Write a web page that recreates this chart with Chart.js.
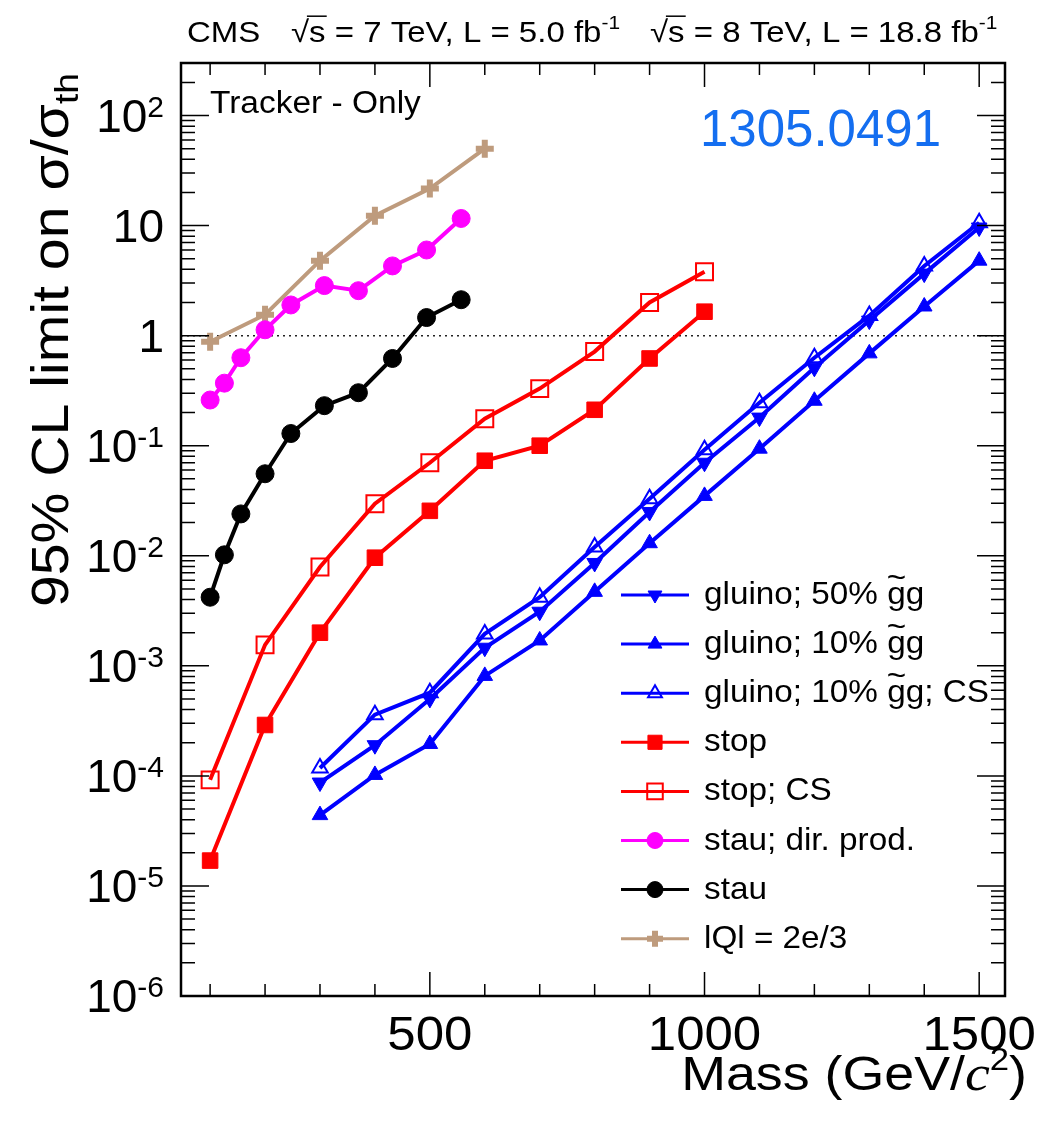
<!DOCTYPE html>
<html>
<head>
<meta charset="utf-8">
<script src="https://cdn.jsdelivr.net/npm/chart.js@4.4.1/dist/chart.umd.min.js"></script>
<style>
  html, body { margin: 0; padding: 0; background: #fff; }
  canvas { display: block; }
</style>
</head>
<body>
<canvas id="limits" width="1042" height="1121"></canvas>
<script>
// masses (GeV/c^2)
const gluinoMass = [300, 400, 500, 600, 700, 800, 900, 1000, 1100, 1200, 1300, 1400, 1500];
const stopMass = [100, 200, 300, 400, 500, 600, 700, 800, 900, 1000];
const stauMass = [100, 126, 156, 200, 247, 308, 370, 432, 494, 557];
const qMass = [100, 200, 300, 400, 500, 600];

// 95% CL limit on sigma / sigma_th
const gluino50 = [8.7e-5, 1.9e-4, 5.0e-4, 1.46e-3, 3.1e-3, 8.6e-3, 0.025, 0.07, 0.18, 0.51, 1.37, 3.66, 9.6];
const gluino10 = [4.4e-5, 1.02e-4, 1.95e-4, 8.1e-4, 1.7e-3, 4.7e-3, 0.013, 0.035, 0.094, 0.256, 0.69, 1.84, 4.8];
const gluino10CS = [1.18e-4, 3.6e-4, 5.7e-4, 1.95e-3, 4.2e-3, 0.012, 0.033, 0.092, 0.246, 0.63, 1.52, 4.3, 10.6];
const stop = [1.7e-5, 2.9e-4, 2.0e-3, 9.6e-3, 0.0256, 0.073, 0.1, 0.212, 0.62, 1.65];
const stopCS = [9.2e-5, 1.55e-3, 7.9e-3, 0.0297, 0.07, 0.176, 0.33, 0.716, 2.0, 3.8];
const stauDirect = [0.26, 0.37, 0.63, 1.13, 1.9, 2.85, 2.56, 4.3, 6.0, 11.6];
const stau = [0.0042, 0.0102, 0.024, 0.0556, 0.129, 0.231, 0.303, 0.62, 1.46, 2.12];
const q2e3 = [0.88, 1.55, 4.8, 12.3, 21.7, 50];

const xTicks = [500, 1000, 1500];
const yTicks = [1e-6, 1e-5, 1e-4, 1e-3, 1e-2, 1e-1, 1, 10, 100];
const yTickLabels = [["10", "-6"], ["10", "-5"], ["10", "-4"], ["10", "-3"], ["10", "-2"], ["10", "-1"], ["1", ""], ["10", ""], ["10", "2"]];

const BLUE = "#0000ff";
const RED = "#ff0000";
const MAGENTA = "#ff00ff";
const TAN = "rgb(190,155,125)";
const SANS = '"Liberation Sans", Arial, Helvetica, sans-serif';

const pts = (xs, ys) => xs.map((x, i) => ({ x: x, y: ys[i] }));

const series = (label, xs, ys, color, style, extra) => Object.assign({
  label: label,
  data: pts(xs, ys),
  borderColor: color,
  borderWidth: 4,
  pointStyle: style,
  pointRadius: 9,
  pointBackgroundColor: color,
  pointBorderColor: color,
  pointBorderWidth: 1,
  pointRotation: 0,
  tension: 0,
}, extra || {});

const datasets = [
  series("gluino; 50% ", gluinoMass, gluino50, BLUE, "triangle", { pointRotation: 180 }),
  series("gluino; 10% ", gluinoMass, gluino10, BLUE, "triangle"),
  series("gluino; 10% ", gluinoMass, gluino10CS, BLUE, "triangle", { pointBackgroundColor: "rgba(0,0,0,0)", pointBorderWidth: 2, tail: "; CS" }),
  series("stop", stopMass, stop, RED, "rect", { pointRadius: 11 }),
  series("stop; CS", stopMass, stopCS, RED, "rect", { pointRadius: 12, pointBackgroundColor: "rgba(0,0,0,0)", pointBorderWidth: 2 }),
  series("stau; dir. prod.", stauMass, stauDirect, MAGENTA, "circle"),
  series("stau", stauMass, stau, "#000", "circle"),
  series("lQl = 2e/3", qMass, q2e3, TAN, "cross", { pointRadius: 9, pointBorderWidth: 6 }),
  {
    label: "unity",
    data: [{ x: 47, y: 1 }, { x: 1547, y: 1 }],
    borderColor: "#222",
    borderWidth: 1.5,
    borderDash: [2, 4],
    pointRadius: 0,
    isRef: true,
  },
];
datasets[0].gg = true;
datasets[1].gg = true;
datasets[2].gg = true;

// draw a row of text runs, stretched by sx
function runs(ctx, parts, x, y, o) {
  const sx = o.sx || 1;
  const fontOf = (p) => (p.italic ? "italic " : "") + p.size + "px " + (p.family || SANS);
  let w = 0;
  parts.forEach((p) => {
    ctx.font = fontOf(p);
    p.w = ctx.measureText(p.t).width * sx;
    w += p.w;
  });
  let cx = o.align === "right" ? x - w : o.align === "center" ? x - w / 2 : x;
  ctx.fillStyle = o.color || "#000";
  ctx.strokeStyle = o.color || "#000";
  ctx.textBaseline = "alphabetic";
  ctx.textAlign = "left";
  parts.forEach((p) => {
    ctx.save();
    ctx.font = fontOf(p);
    ctx.translate(cx, y + (p.dy || 0));
    ctx.scale(sx, 1);
    ctx.fillText(p.t, 0, 0);
    if (p.tilde) {
      const tw = ctx.measureText("~").width;
      ctx.fillText("~", p.w / sx / 2 - tw / 2, -p.size * 0.5);
    }
    if (p.bar) {
      ctx.lineWidth = 1.5;
      ctx.beginPath();
      ctx.moveTo(-2, -p.size * 0.86);
      ctx.lineTo(p.w / sx + 1, -p.size * 0.86);
      ctx.stroke();
    }
    ctx.restore();
    cx += p.w;
  });
  return w;
}

const frame = {
  id: "frame",
  afterDraw(chart) {
    const { ctx, chartArea: a, scales } = chart;
    const x = scales.x;
    const y = scales.y;
    ctx.save();
    ctx.strokeStyle = "#000";

    // ticks on all four sides
    ctx.lineWidth = 1.5;
    ctx.beginPath();
    for (let m = 100; m <= 1500; m += 100) {
      const px = x.getPixelForValue(m);
      const len = m % 500 === 0 ? 24 : 12;
      ctx.moveTo(px, a.bottom); ctx.lineTo(px, a.bottom - len);
      ctx.moveTo(px, a.top); ctx.lineTo(px, a.top + len);
    }
    for (let e = -6; e <= 2; e++) {
      for (let k = 1; k <= 9; k++) {
        const v = k * Math.pow(10, e);
        if (v >= y.max) break;
        const py = y.getPixelForValue(v);
        const len = k === 1 ? 28 : 14;
        ctx.moveTo(a.left, py); ctx.lineTo(a.left + len, py);
        ctx.moveTo(a.right, py); ctx.lineTo(a.right - len, py);
      }
    }
    ctx.stroke();
    ctx.lineWidth = 2.5;
    ctx.strokeRect(a.left, a.top, a.right - a.left, a.bottom - a.top);

    // tick labels
    xTicks.forEach((v) => {
      runs(ctx, [{ t: String(v), size: 49 }], x.getPixelForValue(v), 1050, { align: "center", sx: 1.04 });
    });
    yTicks.forEach((v, i) => {
      const py = y.getPixelForValue(v);
      const lab = yTickLabels[i];
      const parts = [{ t: lab[0], size: 46, dy: 16 }];
      if (lab[1]) parts.push({ t: lab[1], size: 30, dy: 1 });
      runs(ctx, parts, 164, py, { align: "right" });
    });

    // axis titles
    runs(ctx, [
      { t: "Mass (GeV/", size: 48 },
      { t: "c", size: 50, italic: true, family: '"Liberation Serif", "Times New Roman", serif' },
      { t: "2", size: 31, dy: -20 },
      { t: ")", size: 48 },
    ], 1027, 1090, { align: "right", sx: 1.12 });

    ctx.save();
    ctx.translate(68, 340);
    ctx.rotate(-Math.PI / 2);
    runs(ctx, [
      { t: "95% CL limit on \u03c3/\u03c3", size: 52 },
      { t: "th", size: 34, dy: 10 },
    ], 0, 0, { align: "center", sx: 1.1 });
    ctx.restore();

    // header
    runs(ctx, [{ t: "CMS", size: 30 }], 187, 42, { sx: 1.1 });
    [[291, "7", "5.0"], [650, "8", "18.8"]].forEach((h) => {
      runs(ctx, [
        { t: "\u221a", size: 30 },
        { t: "s", size: 30, bar: true },
        { t: " = " + h[1] + " TeV, L = " + h[2] + " fb", size: 30 },
        { t: "-1", size: 19, dy: -13 },
      ], h[0], 42, { sx: 1.1 });
    });

    // labels inside the frame
    runs(ctx, [{ t: "Tracker - Only", size: 31 }], 210, 113, { sx: 1.08 });
    runs(ctx, [{ t: "1305.0491", size: 51 }], 700, 146, { color: "rgb(20,110,240)" });

    // legend
    const drawPoint = Chart.helpers && Chart.helpers.drawPoint;
    chart.data.datasets.forEach((ds, i) => {
      if (ds.isRef) return;
      const ry = 595 + i * 49.1;
      ctx.save();
      ctx.strokeStyle = ds.borderColor;
      ctx.lineWidth = 3;
      ctx.beginPath();
      ctx.moveTo(621, ry); ctx.lineTo(689, ry);
      ctx.stroke();
      ctx.fillStyle = ds.pointBackgroundColor;
      ctx.strokeStyle = ds.pointBorderColor;
      ctx.lineWidth = ds.pointBorderWidth;
      const opts = { pointStyle: ds.pointStyle, rotation: ds.pointRotation, radius: ds.pointRadius - 1, borderWidth: ds.pointBorderWidth };
      if (drawPoint) {
        drawPoint(ctx, opts, 655, ry);
      } else {
        ctx.beginPath(); ctx.arc(655, ry, 8, 0, 2 * Math.PI); ctx.fill();
      }
      ctx.restore();
      const parts = [{ t: ds.label, size: 32 }];
      if (ds.gg) {
        parts.push({ t: "g", size: 32, tilde: true });
        parts.push({ t: "g" + (ds.tail || ""), size: 32 });
      }
      runs(ctx, parts, 704, ry + 9, { sx: 1.04 });
    });
    ctx.restore();
  },
};

new Chart(document.getElementById("limits"), {
  type: "line",
  data: { datasets: datasets },
  options: {
    responsive: false,
    animation: false,
    layout: { padding: { left: 181, top: 63, right: 37, bottom: 125 } },
    plugins: { legend: { display: false }, tooltip: { enabled: false } },
    scales: {
      x: { type: "linear", min: 47, max: 1547, display: false },
      y: { type: "logarithmic", min: 1e-6, max: 300, display: false },
    },
  },
  plugins: [frame],
});
</script>
</body>
</html>
